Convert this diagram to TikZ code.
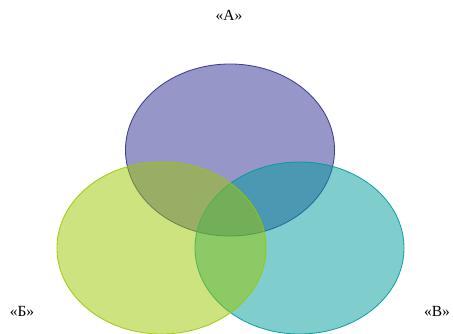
\documentclass[tikz,border=0pt]{standalone}
\usepackage{fontspec}
\setmainfont{Liberation Serif}
\usetikzlibrary{shapes.geometric}
\definecolor{setA}{RGB}{46,46,148}
\definecolor{setB}{RGB}{154,200,0}
\definecolor{setC}{RGB}{0,155,155}

\begin{document}
\begin{tikzpicture}[x=0.025cm, y=-0.025cm,
    venn/.style={ellipse, draw, line width=0.6pt, inner sep=0pt,
        minimum width=5.225cm, minimum height=4.3cm, fill opacity=0.5, draw opacity=0.9},
    lbl/.style={font=\fontsize{11}{13}\selectfont, inner sep=0pt}]
            \useasboundingbox (0,0) rectangle (453,334);
            \node[venn, draw=setA, fill=setA] (a) at (230,150) {};
            \node[venn, draw=setC, fill=setC] (c) at (299.5,248) {};
            \node[venn, draw=setB, fill=setB] (b) at (161.5,248) {};
            \node[lbl] (la) at (229,15) {«А»};
            \node[lbl] (lb) at (22,311) {«Б»};
            \node[lbl] (lc) at (437,311) {«В»};
        \end{tikzpicture}
\end{document}
